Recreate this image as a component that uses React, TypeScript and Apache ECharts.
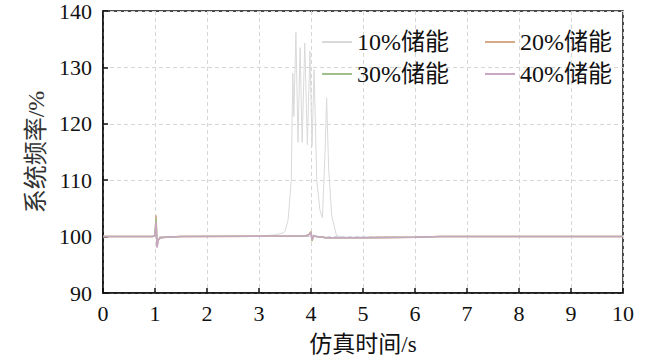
import React, { useEffect, useRef } from "react";
import * as echarts from "echarts";

const seriesNames = ["10%储能", "20%储能", "30%储能", "40%储能"];
const xTicks = [0, 1, 2, 3, 4, 5, 6, 7, 8, 9, 10];

const t10 = [0, 0.95, 1.0, 1.02, 1.04, 1.06, 1.1, 1.2, 1.5, 3.0, 3.3, 3.45, 3.5, 3.56, 3.62, 3.65, 3.67, 3.71, 3.75, 3.79, 3.83, 3.88, 3.93, 3.98, 4.02, 4.06, 4.11, 4.17, 4.22, 4.27, 4.3, 4.34, 4.4, 4.49, 4.6, 6, 10];
const v10 = [100, 100, 100.2, 103.5, 98, 99.4, 99.8, 100, 100, 100.1, 100.3, 100.6, 100.9, 103, 110, 129, 121.3, 136.2, 116.7, 133.5, 116.7, 134.3, 116.3, 132.9, 116, 129.6, 110.1, 104.8, 103.3, 114.9, 124.6, 111.9, 103.6, 100.2, 99.9, 100, 100];

const t20 = [0, 0.95, 1.0, 1.02, 1.04, 1.06, 1.1, 1.2, 1.5, 3.9, 3.97, 4.0, 4.02, 4.05, 4.1, 4.3, 5.0, 6.0, 6.5, 10];
const v20 = [100, 100, 100.2, 103.8, 98.2, 99.3, 99.8, 99.9, 100, 100.1, 100.5, 100.9, 99.2, 100.2, 100, 99.8, 99.8, 99.9, 100, 100];

const t30 = [0, 0.95, 1.0, 1.02, 1.04, 1.06, 1.1, 1.2, 1.5, 3.9, 3.97, 4.0, 4.02, 4.05, 4.1, 4.3, 5.0, 6.0, 6.5, 10];
const v30 = [100, 100, 100.2, 103.1, 98.5, 99.4, 99.8, 99.9, 100, 100.1, 100.4, 100.8, 99.3, 100.2, 100, 99.8, 99.8, 99.9, 100, 100];

const t40 = [0, 0.95, 1.0, 1.02, 1.04, 1.06, 1.1, 1.2, 1.5, 3.9, 3.97, 4.0, 4.02, 4.05, 4.1, 4.3, 5.0, 6.0, 6.5, 10];
const v40 = [100, 100, 100.2, 102.6, 98.1, 99.4, 99.8, 99.9, 100, 100.1, 100.4, 100.7, 99.4, 100.2, 100, 99.8, 99.8, 99.9, 100, 100];

const colors = ["#d9d9d9", "#d4aa88", "#9fc08a", "#c8a6c4"];

const zip = (t: number[], v: number[]) => t.map((x, i) => [x, v[i]]);

const FONT = "Liberation Serif, Noto Sans CJK SC";

export default function App() {
  const ref = useRef<HTMLDivElement>(null);
  useEffect(() => {
    if (!ref.current) return;
    const chart = echarts.init(ref.current, undefined, { renderer: "svg" });
    const datasets = [zip(t10, v10), zip(t20, v20), zip(t30, v30), zip(t40, v40)];
    const legendText = { fontFamily: FONT, fontSize: 24, color: "#111" };
    const legendBase = {
      left: 317, itemWidth: 30, itemHeight: 10, itemGap: 36,
      icon: "path://M0,4L30,4L30,6L0,6Z",
      textStyle: legendText,
    };
    chart.setOption({
      animation: false,
      backgroundColor: "#fff",
      textStyle: { fontFamily: FONT },
      grid: { left: 103, right: 36, top: 11, bottom: 68, show: true, borderColor: "#111", borderWidth: 1.5, backgroundColor: "transparent" },
      legend: [
        { ...legendBase, data: [seriesNames[0], seriesNames[1]], top: 25 },
        { ...legendBase, data: [seriesNames[2], seriesNames[3]], top: 57 },
      ],
      xAxis: {
        type: "value", min: 0, max: 10, interval: 1,
        name: "仿真时间/s", nameLocation: "middle", nameGap: 40,
        nameTextStyle: { fontFamily: FONT, fontSize: 23, color: "#111" },
        axisLine: { show: true, lineStyle: { color: "#111", width: 1.5 } },
        axisTick: { show: true, inside: true, length: 5, lineStyle: { color: "#111", width: 1.5 } },
        axisLabel: { fontFamily: FONT, fontSize: 22, color: "#111", margin: 9, formatter: (v: number) => (xTicks.includes(v) ? String(v) : "") },
        splitLine: { show: true, lineStyle: { color: "#d6d6d6", type: [4, 3], width: 1 } },
      },
      yAxis: {
        type: "value", min: 90, max: 140, interval: 10,
        name: "系统频率/%", nameLocation: "middle", nameGap: 53,
        nameTextStyle: { fontFamily: FONT, fontSize: 24, color: "#333" },
        axisLine: { show: true, lineStyle: { color: "#111", width: 1.5 } },
        axisTick: { show: true, inside: true, length: 5, lineStyle: { color: "#111", width: 1.5 } },
        axisLabel: { fontFamily: FONT, fontSize: 22, color: "#111", margin: 11 },
        splitLine: { show: true, lineStyle: { color: "#d6d6d6", type: [4, 3], width: 1 } },
      },
      series: seriesNames.map((n, i) => ({
        name: n,
        type: "line",
        data: datasets[i],
        showSymbol: false,
        symbol: "none",
        color: colors[i],
        lineStyle: { width: i === 0 ? 1 : 1.5, color: colors[i] },
        z: 2 + i,
      })),
    });
    return () => chart.dispose();
  }, []);
  return <div ref={ref} style={{ width: 659, height: 361, position: "absolute", left: 0, top: 0 }} />;
}
